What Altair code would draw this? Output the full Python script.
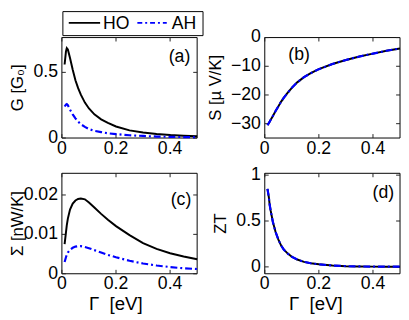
import altair as alt
import pandas as pd

# ---- data ----
gamma = [0.01, 0.015, 0.018, 0.022, 0.03, 0.04, 0.05, 0.06, 0.07, 0.085, 0.1,
         0.12, 0.145, 0.17, 0.2, 0.25, 0.3, 0.35, 0.4, 0.45, 0.5]

G_HO = [0.56, 0.66, 0.685, 0.675, 0.61, 0.52, 0.44, 0.38, 0.33, 0.27, 0.225,
        0.18, 0.142, 0.115, 0.088, 0.058, 0.042, 0.031, 0.023, 0.018, 0.014]
G_AH = [0.24, 0.255, 0.258, 0.25, 0.216, 0.18, 0.15, 0.125, 0.105, 0.085, 0.068,
        0.055, 0.045, 0.036, 0.03, 0.021, 0.016, 0.011, 0.009, 0.007, 0.006]

S_HO = [-30.5, -29.8, -29.3, -28.6, -27.3, -25.6, -24.0, -22.4, -21.0, -19.2, -17.5,
        -15.6, -13.8, -12.4, -11.0, -9.2, -7.8, -6.6, -5.6, -4.6, -3.8]
S_AH = [-30.5, -29.8, -29.3, -28.6, -27.3, -25.6, -24.0, -22.4, -21.0, -19.2, -17.5,
        -15.6, -13.8, -12.4, -11.0, -9.2, -7.8, -6.6, -5.6, -4.6, -3.8]

K_HO = [0.0075, 0.0105, 0.0123, 0.014, 0.0163, 0.0178, 0.0186, 0.019, 0.0191, 0.0189, 0.0181,
        0.0168, 0.0152, 0.0137, 0.0121, 0.0098, 0.0078, 0.0063, 0.0052, 0.0044, 0.0037]
K_AH = [0.003, 0.0042, 0.0048, 0.0054, 0.0061, 0.0066, 0.0069, 0.007, 0.007, 0.0068, 0.0065,
        0.006, 0.0054, 0.0048, 0.0042, 0.0033, 0.0026, 0.0021, 0.0017, 0.0014, 0.0012]

ZT_HO = [0.85, 0.76, 0.68, 0.61, 0.49, 0.38, 0.30, 0.235, 0.19, 0.145, 0.11,
         0.08, 0.055, 0.04, 0.028, 0.015, 0.008, 0.005, 0.003, 0.002, 0.002]
ZT_AH = [0.85, 0.76, 0.68, 0.61, 0.49, 0.38, 0.30, 0.235, 0.19, 0.145, 0.11,
         0.08, 0.055, 0.04, 0.028, 0.015, 0.008, 0.005, 0.003, 0.002, 0.002]

x_ticks = [0, 0.2, 0.4]
y_ticks_a = [0, 0.5]
y_ticks_b = [0, -10, -20, -30]
y_ticks_c = [0, 0.01, 0.02]
y_ticks_d = [0, 0.5, 1]

series_names = ["HO", "AH"]
x_title = "\u0393\u00a0\u00a0[eV]"

FONT = "Liberation Sans"
FS = 18
TICK = 4
BLUE = "#0000ff"
DASH = [7, 3, 2, 3]
CW, CH = 401, 312   # whole drawing area (page 409x320 minus 8px margin)


def one():
    return alt.Data(values=[{}])


def txt(text, x, y, align="center", baseline="middle", angle=0, size=FS):
    kw = dict(font=FONT, fontSize=size, align=align, baseline=baseline, color="black")
    if angle:
        kw["angle"] = angle
    return alt.Chart(one()).mark_text(**kw).encode(
        x=alt.value(x), y=alt.value(y), text=alt.value(text))


def panel(y_ho, y_ah, ydom, yvals, box, ytitle, ytitle_x, label, label_xy, xtitle_x=None):
    x0, x1, y0, y1 = box
    xs = alt.Scale(domain=[0, 0.5], range=[x0, x1], nice=False, zero=False)
    ys = alt.Scale(domain=ydom, range=[y1, y0], nice=False, zero=False)

    def X(f):
        return alt.X(f, scale=xs, axis=None)

    def Y(f):
        return alt.Y(f, scale=ys, axis=None)

    df_ho = pd.DataFrame({"g": gamma, "v": y_ho})
    df_ah = pd.DataFrame({"g": gamma, "v": y_ah})
    xt = pd.DataFrame({"t": x_ticks})
    yt = pd.DataFrame({"t": yvals})

    layers = []
    # frame
    layers.append(alt.Chart(one()).mark_rect(fillOpacity=0, stroke="black", strokeWidth=1).encode(
        x=alt.value(x0), x2=alt.value(x1), y=alt.value(y0), y2=alt.value(y1)))
    # inward ticks on all four sides
    ts = dict(color="#222222", strokeWidth=1)
    layers.append(alt.Chart(xt).mark_rule(**ts).encode(
        x=X("t:Q"), y=alt.value(y1), y2=alt.value(y1 - TICK)))
    layers.append(alt.Chart(xt).mark_rule(**ts).encode(
        x=X("t:Q"), y=alt.value(y0), y2=alt.value(y0 + TICK)))
    layers.append(alt.Chart(yt).mark_rule(**ts).encode(
        y=Y("t:Q"), x=alt.value(x0), x2=alt.value(x0 + TICK)))
    layers.append(alt.Chart(yt).mark_rule(**ts).encode(
        y=Y("t:Q"), x=alt.value(x1), x2=alt.value(x1 - TICK)))
    # tick labels
    layers.append(alt.Chart(xt).mark_text(font=FONT, fontSize=FS, baseline="top", align="center",
                                          color="black").encode(
        x=X("t:Q"), y=alt.value(y1 + 2), text=alt.Text("t:Q", format="~g")))
    layers.append(alt.Chart(yt).mark_text(font=FONT, fontSize=FS, baseline="middle", align="right",
                                          color="black").encode(
        y=Y("t:Q"), x=alt.value(x0 - 4), text=alt.Text("t:Q", format="~g")))
    # curves
    layers.append(alt.Chart(df_ho).mark_line(color="black", strokeWidth=2).encode(
        x=X("g:Q"), y=Y("v:Q")))
    layers.append(alt.Chart(df_ah).mark_line(color=BLUE, strokeWidth=2.2, strokeDash=DASH).encode(
        x=X("g:Q"), y=Y("v:Q")))
    # titles and panel label
    layers.append(txt(ytitle, ytitle_x, (y0 + y1) / 2, angle=270, size=17))
    if xtitle_x is not None:
        layers.append(txt(x_title, xtitle_x, y1 + 31, size=19))
    layers.append(txt(label, label_xy[0], label_xy[1], align="right"))
    return layers


A = (55, 193, 27, 129.5)
B = (262, 400, 27, 129.5)
C = (55, 193, 165.5, 268)
D = (262, 400, 165.5, 268)

layers = []
layers += panel(G_HO, G_AH, [0, 0.765], y_ticks_a, A, "G [G\u2080]", 10, "(a)", (186, 47))
layers += panel(S_HO, S_AH, [-35, 0], y_ticks_b, B, "S [\u00b5 V/K]", 212, "(b)", (308, 45))
layers += panel(K_HO, K_AH, [0, 0.0255], y_ticks_c, C, "\u03a3 [nW/K]", 10, "(c)", (187, 193),
                xtitle_x=110)
layers += panel(ZT_HO, ZT_AH, [-0.075, 1.02], y_ticks_d, D, "ZT", 217, "(d)", (394, 186),
                xtitle_x=314)

# legend box
layers.append(alt.Chart(one()).mark_rect(fill="white", stroke="black", strokeWidth=1).encode(
    x=alt.value(56), x2=alt.value(199), y=alt.value(0.5), y2=alt.value(25)))
layers.append(alt.Chart(one()).mark_rule(color="black", strokeWidth=2).encode(
    x=alt.value(62), x2=alt.value(94), y=alt.value(12), y2=alt.value(12)))
layers.append(txt(series_names[0], 97, 13, align="left"))
layers.append(alt.Chart(one()).mark_rule(color=BLUE, strokeWidth=2, strokeDash=[5, 3, 2, 3]).encode(
    x=alt.value(132), x2=alt.value(162), y=alt.value(12), y2=alt.value(12)))
layers.append(txt(series_names[1], 167, 13, align="left"))

chart = alt.layer(*layers).resolve_scale(x="independent", y="independent").properties(
    width=CW, height=CH, padding=0,
    autosize=alt.AutoSizeParams(type="none"),
).configure_view(strokeWidth=0)

chart.save("out.html", embed_options={"renderer": "svg", "actions": False})
